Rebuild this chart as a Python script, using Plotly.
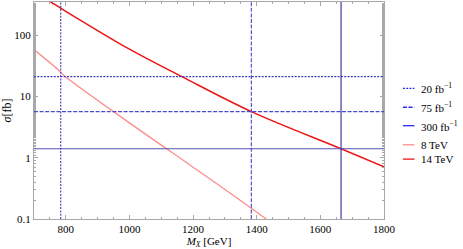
import plotly.graph_objects as go

# ---- data ----
mass_8tev = [700, 774, 794, 1000, 1200, 1316, 1430]
xsec_8tev = [58, 27.7, 22, 3.7, 0.70, 0.265, 0.10]

mass_14tev = [700, 753, 790, 1000, 1165, 1383, 1665, 1800]
xsec_14tev = [510, 346, 263, 59, 21, 5.65, 1.40, 0.71]

lumi_labels = ["20 fb<sup>−1</sup>", "75 fb<sup>−1</sup>", "300 fb<sup>−1</sup>"]
lumi_xsec_limits = [21.0, 5.65, 1.40]      # horizontal lines (fb)
lumi_mass_reach = [784, 1383, 1665]        # vertical lines (GeV)
energy_labels = ["8 TeV", "14 TeV"]

x_ticks = [800, 1000, 1200, 1400, 1600, 1800]
y_ticks = [0.1, 1, 10, 100]
y_tick_text = ["0.1", "1", "10", "100"]

# ---- styling ----
FONT = "Liberation Serif"
dashes = ["2px,1.3px", "4px,1.6px", "solid"]
hcolors = ["rgb(60,60,190)", "rgb(75,75,200)", "rgb(85,85,180)"]
vcolors = ["rgb(60,60,190)", "rgb(70,70,195)", "rgb(45,45,150)"]
legend_blue = "rgb(40,40,245)"
c8 = "rgb(255,140,140)"
c14 = "rgb(238,20,20)"

fig = go.Figure()
fig.add_trace(go.Scatter(x=mass_8tev, y=xsec_8tev, mode="lines",
                         line=dict(color=c8, width=1.3, shape="spline"),
                         showlegend=False))
fig.add_trace(go.Scatter(x=mass_14tev, y=xsec_14tev, mode="lines",
                         line=dict(color=c14, width=1.5, shape="spline"),
                         showlegend=False))

for v, d, c in zip(lumi_xsec_limits, dashes, hcolors):
    fig.add_hline(y=v, line=dict(color=c, width=1.1, dash=d))
for v, d, c in zip(lumi_mass_reach, dashes, vcolors):
    fig.add_vline(x=v, line=dict(color=c, width=1.1, dash=d))

# ---- manual legend ----
leg_y = [0.602, 0.515, 0.43, 0.342, 0.276]
leg_labels = lumi_labels + energy_labels
leg_colors = [legend_blue] * 3 + [c8, c14]
leg_dash = dashes + ["solid", "solid"]
for yy, lab, col, d in zip(leg_y, leg_labels, leg_colors, leg_dash):
    fig.add_shape(type="line", xref="paper", yref="paper",
                  x0=1.054, x1=1.087, y0=yy, y1=yy,
                  line=dict(color=col, width=1.3, dash=d))
    fig.add_annotation(xref="paper", yref="paper", x=1.1, y=yy,
                       text=lab, showarrow=False, xanchor="left",
                       yanchor="middle", font=dict(family=FONT, size=11, color="black"))

axis_common = dict(showline=True, linecolor="#a8a8a8", linewidth=1,
                   mirror="allticks", ticks="inside", tickcolor="#a8a8a8",
                   ticklen=4, showgrid=False, zeroline=False,
                   tickfont=dict(family=FONT, size=11, color="black"))

fig.update_xaxes(range=[700, 1800], tickvals=x_ticks,
                 minor=dict(dtick=50, tick0=700, ticks="inside", ticklen=2,
                            tickcolor="#a8a8a8", showgrid=False),
                 title=dict(text="<i>M</i><sub><i>X</i></sub> [GeV]",
                            font=dict(family=FONT, size=11, color="black"),
                            standoff=2),
                 **axis_common)
fig.update_yaxes(type="log", range=[-1, 2.54], tickvals=y_ticks,
                 ticktext=y_tick_text,
                 minor=dict(ticks="inside", ticklen=2, tickcolor="#a8a8a8",
                            showgrid=False),
                 title=dict(text="<i>σ</i>[fb]",
                            font=dict(family=FONT, size=12, color="black"),
                            standoff=2),
                 **axis_common)

fig.update_layout(width=463, height=249,
                  margin=dict(l=34, r=79, t=2, b=30),
                  paper_bgcolor="white", plot_bgcolor="white",
                  showlegend=False)

fig.write_html("out.html", config={"displayModeBar": False},
               post_script="document.body.style.margin='0';document.body.style.overflow='hidden';")
